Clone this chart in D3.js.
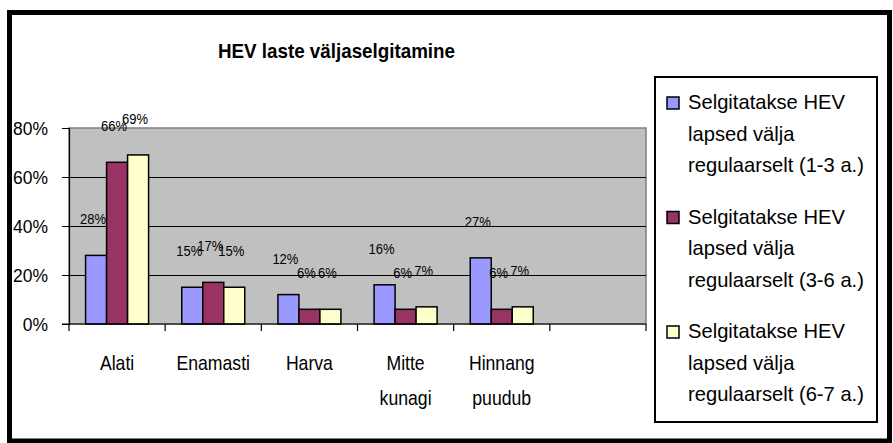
<!DOCTYPE html>
<html>
<head>
<meta charset="utf-8">
<script src="https://cdn.jsdelivr.net/npm/d3@7"></script>
<style>
  html, body { margin: 0; padding: 0; background: #fff; }
  svg { display: block; }
  text { font-family: "Liberation Sans", Arial, sans-serif; }
</style>
</head>
<body>
<svg id="chart" width="893" height="443"></svg>
<script>
// ---- data ----
const title = "HEV laste väljaselgitamine";
const categories = ["Alati", "Enamasti", "Harva", "Mitte kunagi", "Hinnang puudub"];
const seriesNames = [
  "Selgitatakse HEV\nlapsed välja\nregulaarselt (1-3 a.)",
  "Selgitatakse HEV\nlapsed välja\nregulaarselt (3-6 a.)",
  "Selgitatakse HEV\nlapsed välja\nregulaarselt (6-7 a.)"
];
const values1to3 = [0.28, 0.15, 0.12, 0.16, 0.27];
const values3to6 = [0.66, 0.17, 0.06, 0.06, 0.06];
const values6to7 = [0.69, 0.15, 0.06, 0.07, 0.07];
const yTicks = [0, 0.2, 0.4, 0.6, 0.8];
const colors = ["#9999FF", "#993366", "#FFFFCC"];

const seriesValues = [values1to3, values3to6, values6to7];

// horizontally condense text (the original uses a narrow rendering)
function condense(sel, factor) {
  sel.each(function () {
    const w = this.getComputedTextLength();
    d3.select(this).attr("textLength", w * factor).attr("lengthAdjust", "spacingAndGlyphs");
  });
}

// ---- layout ----
const svg = d3.select("#chart");
const plot = { left: 69, right: 646, top: 128, bottom: 324 };
const slots = categories.length + 1; // empty slot at the end, as in the original
const step = (plot.right - plot.left) / slots;

const x = d3.scaleBand()
  .domain(categories)
  .range([plot.left, plot.left + step * categories.length])
  .paddingInner(0).paddingOuter(0);

const groupHalf = 31.5;
const xs = d3.scaleBand()
  .domain(d3.range(seriesNames.length))
  .range([x.bandwidth() / 2 - groupHalf, x.bandwidth() / 2 + groupHalf]);

const y = d3.scaleLinear().domain([0, 0.8]).range([plot.bottom, plot.top]);

// outer frame
svg.append("rect")
  .attr("x", 9.5).attr("y", 12.5)
  .attr("width", 880).attr("height", 428.5)
  .attr("fill", "#fff").attr("stroke", "#000").attr("stroke-width", 5);

// plot background
svg.append("rect")
  .attr("x", plot.left).attr("y", plot.top)
  .attr("width", plot.right - plot.left).attr("height", plot.bottom - plot.top)
  .attr("fill", "#C0C0C0").attr("stroke", "#808080").attr("stroke-width", 1.5);

// gridlines
svg.append("g").selectAll("line")
  .data(yTicks.filter(d => d > 0 && d < 0.8))
  .join("line")
  .attr("x1", plot.left).attr("x2", plot.right)
  .attr("y1", d => Math.round(y(d)) + 0.5).attr("y2", d => Math.round(y(d)) + 0.5)
  .attr("stroke", "#000").attr("stroke-width", 1);

// bars
const groups = svg.append("g").selectAll("g")
  .data(categories)
  .join("g")
  .attr("transform", d => `translate(${x(d)},0)`);

groups.selectAll("rect")
  .data((d, i) => seriesValues.map((vals, s) => ({ s, v: vals[i] })))
  .join("rect")
  .attr("x", d => xs(d.s))
  .attr("width", xs.bandwidth())
  .attr("y", d => y(d.v))
  .attr("height", d => y(0) - y(d.v))
  .attr("fill", d => colors[d.s])
  .attr("stroke", "#000").attr("stroke-width", 1.5);

// data labels
groups.selectAll("text")
  .data((d, i) => seriesValues.map((vals, s) => ({ s, v: vals[i] })))
  .join("text")
  .attr("x", d => xs(d.s) + xs.bandwidth() / 2 - 3)
  .attr("y", d => y(d.v) - 31)
  .attr("text-anchor", "middle")
  .attr("font-size", 14)
  .attr("fill", "#000")
  .text(d => d3.format(".0%")(d.v))
  .call(condense, 0.93);

// y axis
const yAxis = svg.append("g")
  .attr("transform", `translate(${plot.left},0)`)
  .call(d3.axisLeft(y).tickValues(yTicks).tickFormat(d3.format(".0%")).tickSize(7).tickPadding(14));
yAxis.select(".domain").attr("stroke", "#000").attr("stroke-width", 1.2);
yAxis.selectAll(".tick line").attr("stroke", "#000");
yAxis.selectAll("text")
  .attr("font-family", "Liberation Sans, Arial, sans-serif")
  .attr("font-size", 18).attr("fill", "#000").attr("dy", "0.36em")
  .call(condense, 0.97);

// x axis line and boundary ticks
svg.append("line")
  .attr("x1", plot.left - 7).attr("x2", plot.right)
  .attr("y1", plot.bottom).attr("y2", plot.bottom)
  .attr("stroke", "#000").attr("stroke-width", 1.2);
svg.append("g").selectAll("line")
  .data(d3.range(slots + 1))
  .join("line")
  .attr("x1", i => plot.left + i * step).attr("x2", i => plot.left + i * step)
  .attr("y1", plot.bottom).attr("y2", plot.bottom + 7)
  .attr("stroke", "#000").attr("stroke-width", 1.2);

// category labels (one text per line)
const catLines = categories.flatMap(c => c.split(" ").map((p, i) => ({ c, p, i })));
svg.append("g").selectAll("text")
  .data(catLines)
  .join("text")
  .attr("x", d => x(d.c) + x.bandwidth() / 2)
  .attr("y", d => 370 + d.i * 35)
  .attr("text-anchor", "middle")
  .attr("font-size", 21)
  .attr("fill", "#000")
  .text(d => d.p)
  .call(condense, 0.84);

// title
svg.append("text")
  .attr("x", 336.5).attr("y", 58)
  .attr("text-anchor", "middle")
  .attr("font-size", 21).attr("font-weight", "bold")
  .attr("textLength", 237).attr("lengthAdjust", "spacingAndGlyphs")
  .text(title);

// legend
const legend = svg.append("g");
legend.append("rect")
  .attr("x", 655).attr("y", 77)
  .attr("width", 222).attr("height", 345)
  .attr("fill", "#fff").attr("stroke", "#000").attr("stroke-width", 2);

const legItems = legend.selectAll("g.item")
  .data(seriesNames)
  .join("g")
  .attr("class", "item")
  .attr("transform", (d, i) => `translate(0,${109 + i * 114.5})`);

legItems.append("rect")
  .attr("x", 667).attr("y", -12)
  .attr("width", 12).attr("height", 12)
  .attr("fill", (d, i) => colors[i])
  .attr("stroke", "#000").attr("stroke-width", 1.5);

legItems.selectAll("text")
  .data(d => d.split("\n"))
  .join("text")
  .attr("x", 688)
  .attr("y", (p, i) => i * 31.5)
  .attr("font-size", 21)
  .attr("fill", "#000")
  .text(p => p)
  .call(condense, 0.96);
</script>
</body>
</html>
